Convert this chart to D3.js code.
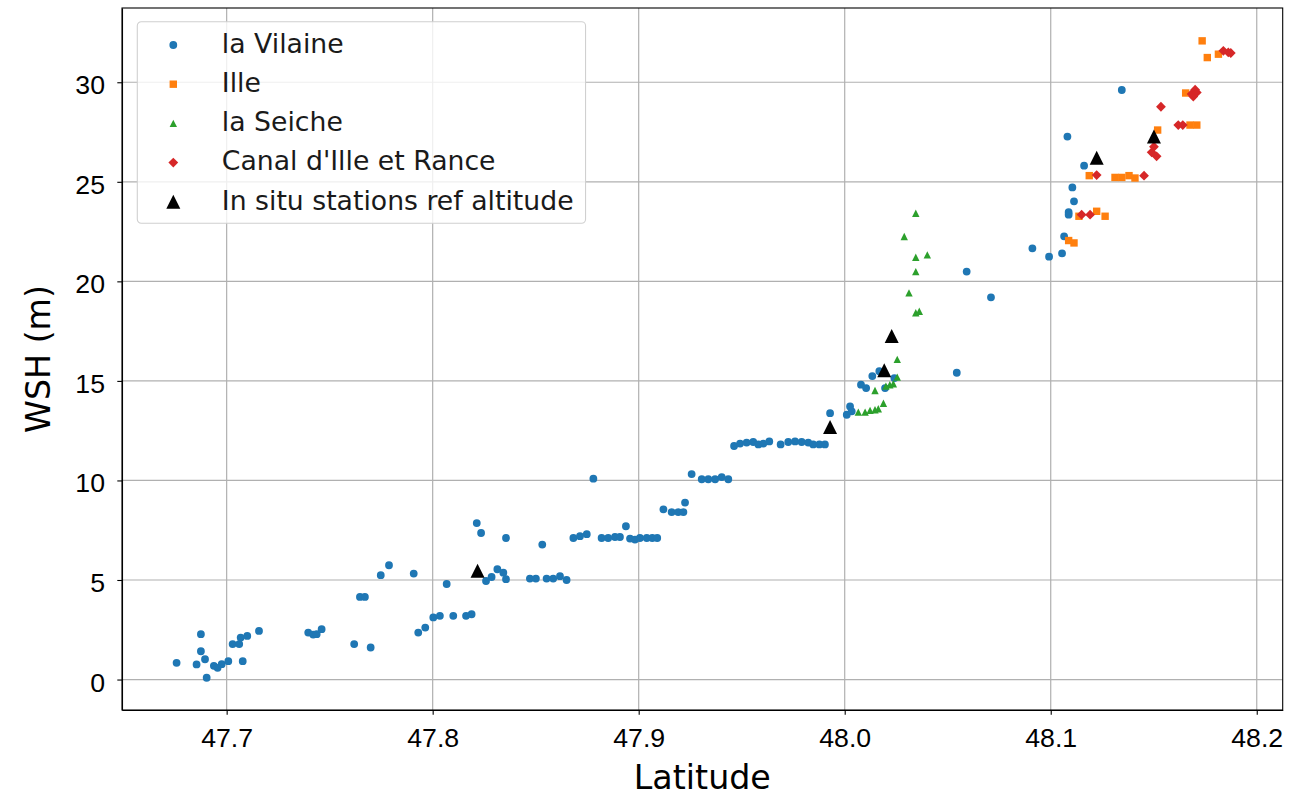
<!DOCTYPE html>
<html>
<head>
<meta charset="utf-8">
<script src="https://cdn.jsdelivr.net/npm/d3@7"></script>
<style>
	body { margin: 0; background: #fff; }
	svg { display: block; font-family: 'DejaVu Sans', sans-serif; }
	.grid line { stroke: #b0b0b0; stroke-width: 1.2; }
	.axis path, .axis line { stroke: #000; stroke-width: 1.1; }
	.axis text { font-size: 26.7px; fill: #000; }
	.axis-label { font-size: 33.3px; fill: #000; }
	.legend-label { font-size: 26.7px; fill: #1a1a1a; }
</style>
</head>
<body>
<svg id="chart" width="1291" height="797"></svg>
<script>

// la Vilaine
const vilaineLat = [
	47.6757, 47.6854, 47.6875, 47.6875, 47.6895, 47.6903, 47.6938, 47.6956, 47.6976, 47.7008,
	47.7029, 47.7061, 47.7068, 47.7078, 47.7100, 47.7157, 47.7396, 47.7420, 47.7437, 47.7461,
	47.7619, 47.7647, 47.7671, 47.7699, 47.7748, 47.7788, 47.7908, 47.7930, 47.7964, 47.8003,
	47.8035, 47.8068, 47.8100, 47.8162, 47.8189, 47.8214, 47.8235, 47.8259, 47.8286, 47.8314,
	47.8343, 47.8356, 47.8356, 47.8472, 47.8501, 47.8532, 47.8553, 47.8585, 47.8618, 47.8650,
	47.8683, 47.8715, 47.8748, 47.8780, 47.8820, 47.8852, 47.8885, 47.8909, 47.8938, 47.8958,
	47.8982, 47.9006, 47.9039, 47.9066, 47.9090, 47.9120, 47.9160, 47.9192, 47.9217, 47.9225,
	47.9257, 47.9306, 47.9338, 47.9371, 47.9403, 47.9435, 47.9463, 47.9492, 47.9524, 47.9556,
	47.9581, 47.9605, 47.9634, 47.9689, 47.9726, 47.9759, 47.9791, 47.9823, 47.9847, 47.9877,
	47.9904, 47.9929, 48.0010, 48.0026, 48.0034, 48.0079, 48.0104, 48.0134, 48.0168, 48.0196,
	48.0241, 48.0544, 48.0592, 48.0710, 48.0911, 48.0992, 48.1055, 48.1065, 48.1087, 48.1087,
	48.1105, 48.1113, 48.1162, 48.1081, 48.1345
]
const vilaineWsh = [
	0.84, 0.76, 2.28, 1.42, 1.02, 0.09, 0.69, 0.59, 0.77, 0.92,
	1.78, 1.78, 2.11, 0.92, 2.19, 2.44, 2.36, 2.26, 2.28, 2.53,
	1.78, 4.15, 4.15, 1.61, 5.24, 5.74, 5.32, 2.36, 2.61, 3.12,
	3.20, 4.80, 3.20, 3.20, 3.28, 7.86, 7.36, 4.95, 5.15, 5.54,
	5.37, 5.04, 7.11, 5.07, 5.07, 6.78, 5.07, 5.07, 5.19, 5.00,
	7.11, 7.20, 7.30, 10.09, 7.11, 7.11, 7.16, 7.16, 7.70, 7.08,
	7.03, 7.11, 7.11, 7.11, 7.11, 8.55, 8.41, 8.41, 8.41, 8.89,
	10.32, 10.06, 10.06, 10.06, 10.17, 10.06, 11.73, 11.85, 11.90, 11.93,
	11.81, 11.85, 11.96, 11.81, 11.93, 11.96, 11.93, 11.90, 11.81, 11.81,
	11.81, 13.38, 13.30, 13.72, 13.47, 14.81, 14.64, 15.24, 15.49, 14.64,
	15.14, 15.41, 20.49, 19.20, 21.66, 21.24, 21.41, 22.26, 23.47, 23.35,
	24.72, 24.02, 25.81, 27.27, 29.61
]

// Ille
const illeLat = [
	48.1087, 48.1113, 48.1137, 48.1187, 48.1223, 48.1264, 48.1312, 48.1345, 48.1380,
	48.1409, 48.1519, 48.1655, 48.1676, 48.1709, 48.1735, 48.1760, 48.1814
]
const illeWsh = [
	22.05, 21.93, 23.27, 25.31, 23.52, 23.27, 25.22, 25.22, 25.31,
	25.19, 27.60, 29.46, 27.85, 27.85, 32.08, 31.24, 31.41
]

// la Seiche
const seicheLat = [
	48.0066, 48.0099, 48.0123, 48.0147, 48.0163, 48.0188, 48.0147, 48.0200, 48.0219, 48.0236,
	48.0255, 48.0255, 48.0289, 48.0312, 48.0345, 48.0345, 48.0345, 48.0345, 48.0362, 48.0401
]
const seicheWsh = [
	13.43, 13.43, 13.52, 13.55, 13.60, 13.88, 14.52, 14.74, 14.81, 14.86,
	15.19, 16.08, 22.25, 19.42, 23.42, 21.21, 20.49, 18.42, 18.50, 21.33
]

// Canal d'Ille et Rance
const canalLat = [
	48.1150, 48.1191, 48.1223, 48.1453, 48.1490, 48.1501, 48.1514, 48.1535, 48.1619,
	48.1641, 48.1684, 48.1692, 48.1701, 48.1709, 48.1838, 48.1862, 48.1874
]
const canalWsh = [
	23.35, 23.35, 25.34, 25.31, 26.48, 26.76, 26.28, 28.77, 27.85,
	27.85, 29.41, 29.28, 29.63, 29.49, 31.58, 31.50, 31.47
]

// in situ stations
const stationLat = [47.8218, 47.9929, 48.0192, 48.0228, 48.1223, 48.1501]
const stationWsh = [5.47, 12.68, 15.54, 17.25, 26.21, 27.28]

const xTicks = [47.7, 47.8, 47.9, 48.0, 48.1, 48.2]
const yTicks = [0, 5, 10, 15, 20, 25, 30]

const zip = (lat, wsh) => lat.map((d, i) => ({ lat: d, wsh: wsh[i] }))

// marker paths, centred on 0,0
const circle = r => `M${-r},0a${r},${r} 0 1,0 ${2*r},0a${r},${r} 0 1,0 ${-2*r},0Z`
const square = h => `M${-h},${-h}H${h}V${h}H${-h}Z`
const triangle = h => `M0,${-h}L${h},${h}L${-h},${h}Z`
const diamond = h => `M0,${-h}L${h},0L0,${h}L${-h},0Z`

const series = [
	{ name: 'la Vilaine', color: '#1f77b4', shape: circle(3.9), data: zip(vilaineLat, vilaineWsh) },
	{ name: 'Ille', color: '#ff7f0e', shape: square(3.7), data: zip(illeLat, illeWsh) },
	{ name: 'la Seiche', color: '#2ca02c', shape: triangle(3.7), data: zip(seicheLat, seicheWsh) },
	{ name: "Canal d'Ille et Rance", color: '#d62728', shape: diamond(4.9), data: zip(canalLat, canalWsh) },
	{ name: 'In situ stations ref altitude', color: '#000', shape: triangle(7), data: zip(stationLat, stationWsh) }
]

const svg = d3.select('#chart')
const margin = { left: 122, top: 8, right: 8.3, bottom: 87 }
const width = 1291
const height = 797

const xScale = d3.scaleLinear()
	.domain([47.6492, 48.2126])
	.range([margin.left, width - margin.right])

const yScale = d3.scaleLinear()
	.domain([-1.53, 33.73])
	.range([height - margin.bottom, margin.top])

const plot = svg.append('g')

// grid
plot.append('g')
	.attr('class', 'grid')
	.selectAll('line.gx')
	.data(xTicks)
	.enter()
	.append('line')
	.attr('x1', d => xScale(d))
	.attr('x2', d => xScale(d))
	.attr('y1', yScale.range()[1])
	.attr('y2', yScale.range()[0])

plot.select('.grid')
	.selectAll('line.gy')
	.data(yTicks)
	.enter()
	.append('line')
	.attr('x1', xScale.range()[0])
	.attr('x2', xScale.range()[1])
	.attr('y1', d => yScale(d))
	.attr('y2', d => yScale(d))

// points
series.forEach(s => {
	plot.append('g')
		.selectAll('path')
		.data(s.data)
		.enter()
		.append('path')
		.attr('d', s.shape)
		.attr('transform', d => 'translate(' + xScale(d.lat) + ',' + yScale(d.wsh) + ')')
		.attr('fill', s.color)
})

// axes
const xAxis = svg.append('g')
	.attr('class', 'axis')
	.attr('transform', 'translate(0,' + yScale.range()[0] + ')')
	.call(d3.axisBottom(xScale).tickValues(xTicks).tickFormat(d3.format('.1f')).tickSize(4.7).tickSizeOuter(0))

xAxis.selectAll('.tick text')
	.attr('y', 36.7)
	.attr('dy', 0)

const yAxis = svg.append('g')
	.attr('class', 'axis')
	.attr('transform', 'translate(' + xScale.range()[0] + ',0)')
	.call(d3.axisLeft(yScale).tickValues(yTicks).tickSize(4.7).tickSizeOuter(0))

yAxis.selectAll('.tick text')
	.attr('x', -17)
	.attr('dy', 11.5)

// frame
svg.append('rect')
	.attr('x', xScale.range()[0])
	.attr('y', yScale.range()[1])
	.attr('width', xScale.range()[1] - xScale.range()[0])
	.attr('height', yScale.range()[0] - yScale.range()[1])
	.attr('fill', 'none')
	.attr('stroke', '#000')
	.attr('stroke-width', 1.1)

svg.append('text')
	.attr('class', 'axis-label')
	.attr('x', (xScale.range()[0] + xScale.range()[1]) / 2)
	.attr('y', 789)
	.attr('text-anchor', 'middle')
	.text('Latitude')

svg.append('text')
	.attr('class', 'axis-label')
	.attr('transform', 'translate(50,' + (yScale.range()[0] + yScale.range()[1]) / 2 + ') rotate(-90)')
	.attr('text-anchor', 'middle')
	.text('WSH (m)')

// legend
const legend = svg.append('g')
	.attr('transform', 'translate(137.3,21.7)')

const legendBox = legend.append('rect')
	.attr('x', 0)
	.attr('y', 0)
	.attr('rx', 4)
	.attr('height', 201.6)
	.attr('fill', '#fff')
	.attr('fill-opacity', 0.8)
	.attr('stroke', '#d0d0d0')
	.attr('stroke-width', 1.1)

const rows = legend.selectAll('.legend-row')
	.data(series)
	.enter()
	.append('g')
	.attr('class', 'legend-row')
	.attr('transform', (d, i) => 'translate(0,' + (23.3 + i * 39.2) + ')')

rows.append('path')
	.attr('d', d => d.shape)
	.attr('transform', 'translate(36,0)')
	.attr('fill', d => d.color)

const labels = rows.append('text')
	.attr('class', 'legend-label')
	.attr('x', 84.5)
	.attr('y', 7.7)
	.text(d => d.name)

const maxLen = d3.max(labels.nodes(), n => n.getComputedTextLength())
legendBox.attr('width', 84.5 + maxLen + 12)

</script>
</body>
</html>
